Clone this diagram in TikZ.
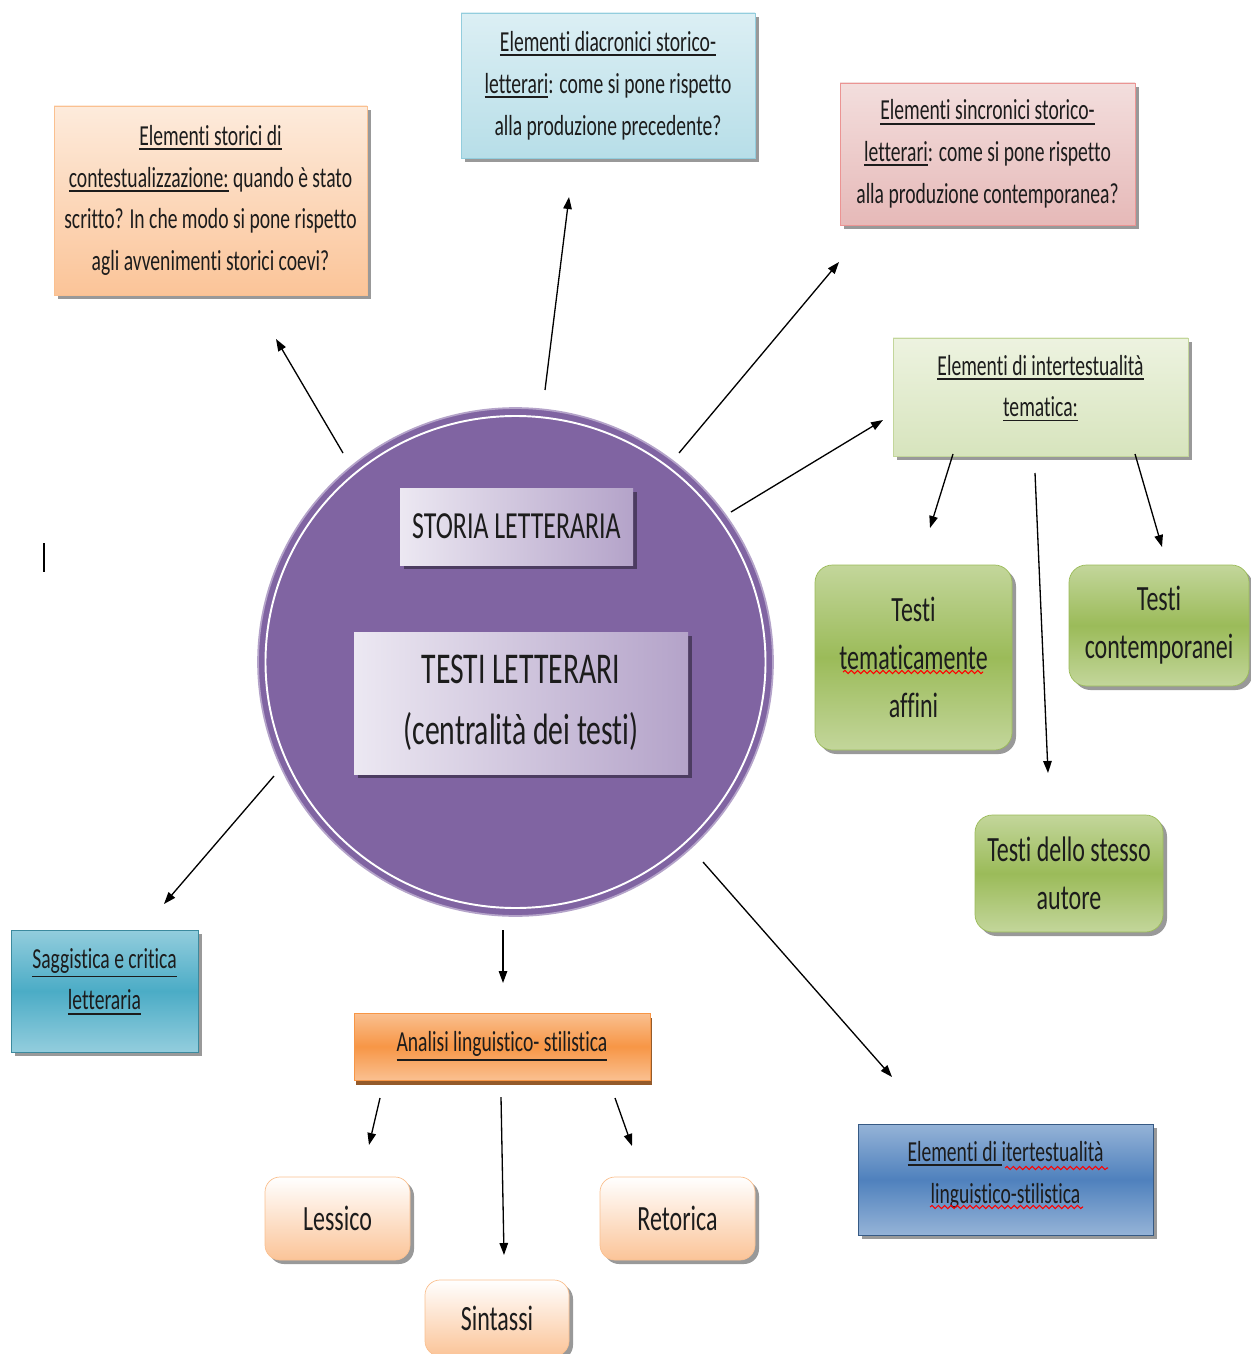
\documentclass[tikz,border=0pt]{standalone}
\usepackage{fontspec}
\setmainfont[FakeStretch=0.676, Ligatures={NoCommon,NoRequired,NoContextual}, Contextuals=NoAlternate]{Carlito}
\usetikzlibrary{arrows.meta,shadows,shapes.geometric,decorations.pathmorphing}

\definecolor{viola}{HTML}{8064A2}
\definecolor{lavchiaro}{HTML}{ECE8F2}
\definecolor{lavscuro}{HTML}{B4A3C9}
\definecolor{pescachiaro}{HTML}{FDEBDC}
\definecolor{pescascuro}{HTML}{FBC498}
\definecolor{celestechiaro}{HTML}{DCEFF4}
\definecolor{celestescuro}{HTML}{B7DEE8}
\definecolor{rosachiaro}{HTML}{F3DEDD}
\definecolor{rosascuro}{HTML}{E6B9B8}
\definecolor{verdechiaro}{HTML}{EDF3E0}
\definecolor{verdetenue}{HTML}{D7E4BD}
\definecolor{verdebordo}{HTML}{C3D69B}
\definecolor{verde}{HTML}{9BBB59}
\definecolor{acqua}{HTML}{4BACC6}
\definecolor{acquachiaro}{HTML}{93CDDD}
\definecolor{arancio}{HTML}{F79646}
\definecolor{aranciochiaro}{HTML}{FAC090}
\definecolor{blu}{HTML}{4F81BD}
\definecolor{bluchiaro}{HTML}{95B3D7}
\definecolor{inchiostro}{HTML}{1C1C1C}

% sottolineatura
\newcommand{\sotto}[1]{\vtop{\hbox{#1}\kern1.4pt\hrule height 1.1pt}}

\tikzset{
  quadro/.style 2 args={minimum width=#1*0.02cm, minimum height=#2*0.02cm, inner sep=0pt, align=center, text=inchiostro},
  ombra/.style={drop shadow={shadow xshift=0.08cm, shadow yshift=-0.08cm, fill=black, opacity=0.4}},
  testo/.style={font=\fontsize{16.5}{23.8}\selectfont, text=inchiostro},
  freccia/.style={-{Triangle[length=0.24cm, width=0.17cm]}, line width=0.75pt, black},
  onda/.style={red, line width=0.6pt, decorate, decoration={snake, amplitude=0.9pt, segment length=3.6pt}},
}

\begin{document}
\begin{tikzpicture}[x=0.02cm, y=-0.02cm]
  \useasboundingbox (0,0) rectangle (1250,1354);

  % cerchio centrale
  \node[ellipse, draw=lavscuro, line width=1pt, fill=viola, minimum width=10.3cm, minimum height=10.16cm] (cerchio) at (515.5,662) {};
  \draw[white, line width=1.1pt] (515.5,662) ellipse [x radius=250, y radius=-246];

  \node[quadro={233}{77}, ombra, left color=lavchiaro, right color=lavscuro, font=\fontsize{21.8}{30}\selectfont] (storia) at (516.5,526.5) {STORIA LETTERARIA};
  \node[quadro={334}{142}, ombra, left color=lavchiaro, right color=lavscuro, font=\fontsize{25}{35}\selectfont] (testi) at (521,703) {TESTI LETTERARI\\(centralità dei testi)};

  % riquadri superiori
  \node[quadro={313}{189}, ombra, testo, draw=aranciochiaro, top color=pescachiaro, bottom color=pescascuro] (storici) at (210.5,200.5)
    {\sotto{Elementi storici di}\\\sotto{contestualizzazione:} quando è stato\\scritto? In che modo si pone rispetto\\agli avvenimenti storici coevi?};
  \node[quadro={294}{145}, ombra, testo, draw=acquachiaro, top color=celestechiaro, bottom color=celestescuro] (diacronici) at (608,85.5)
    {\sotto{Elementi diacronici storico-}\\\sotto{letterari}: come si pone rispetto\\alla produzione precedente?};
  \node[quadro={295}{142}, ombra, testo, draw=rosascuro!80!red, top color=rosachiaro, bottom color=rosascuro] (sincronici) at (987.5,154)
    {\sotto{Elementi sincronici storico-}\\\sotto{letterari}: come si pone rispetto\\alla produzione contemporanea?};
  \node[quadro={295}{118}, ombra, draw=verdebordo, top color=verdechiaro, bottom color=verdetenue,
    label={[testo, align=center, yshift=5pt]center:{\sotto{Elementi di intertestualità}\\\sotto{tematica:}}}] (tematica) at (1040.5,397) {};

  % testi affini
  \node[quadro={197}{185}, ombra, rounded corners=0.35cm, draw=verde, top color=verdebordo, bottom color=verdebordo, middle color=verde, font=\fontsize{20.2}{27.2}\selectfont] (affini) at (913.5,657.5)
    {Testi\\tematicamente\\affini};
  \node[quadro={180}{121}, ombra, rounded corners=0.35cm, draw=verde, top color=verdebordo, bottom color=verdebordo, middle color=verde, font=\fontsize{20.2}{27.2}\selectfont] (contemporanei) at (1159,625.5)
    {Testi\\contemporanei};
  \node[quadro={188}{117}, ombra, rounded corners=0.35cm, draw=verde, top color=verdebordo, bottom color=verdebordo, middle color=verde, font=\fontsize{20.2}{27.2}\selectfont] (autore) at (1069,873.5)
    {Testi dello stesso\\autore};

  % riquadri inferiori
  \node[quadro={187}{122}, ombra, draw=acqua!80!black, top color=acquachiaro, bottom color=acquachiaro, middle color=acqua,
    label={[testo, align=center, yshift=5.5pt]center:{\sotto{Saggistica e critica}\\\sotto{letteraria}}}] (saggistica) at (104.5,991) {};
  \node[quadro={296}{67}, testo, draw=arancio, top color=aranciochiaro, bottom color=aranciochiaro, middle color=arancio,
    drop shadow={shadow xshift=0.03cm, shadow yshift=-0.09cm, fill=arancio!60!black, opacity=1}] (analisi) at (502,1046.5)
    {\sotto{Analisi linguistico- stilistica}};
  \node[quadro={295}{111}, ombra, draw=blu!70!black, top color=bluchiaro, bottom color=bluchiaro, middle color=blu,
    label={[testo, align=center, yshift=2.5pt]center:{\sotto{Elementi di }itertestualità\\linguistico-stilistica}}] (itertestualita) at (1005.5,1179.5) {};

  \node[quadro={145}{83}, ombra, rounded corners=0.3cm, draw=aranciochiaro, top color=white, bottom color=pescascuro, font=\fontsize{20.2}{27}\selectfont] (lessico) at (337.5,1218.5) {Lessico};
  \node[quadro={144}{76}, ombra, rounded corners=0.3cm, draw=aranciochiaro, top color=white, bottom color=pescascuro, font=\fontsize{20.2}{27}\selectfont] (sintassi) at (497,1318) {Sintassi};
  \node[quadro={155}{83}, ombra, rounded corners=0.3cm, draw=aranciochiaro, top color=white, bottom color=pescascuro, font=\fontsize{20.2}{27}\selectfont] (retorica) at (677.5,1218.5) {Retorica};

  % segni del correttore
  \draw[onda] (843,672) -- (983,672);
  \draw[onda] (1005,1168) -- (1108,1168);
  \draw[onda] (930,1207) -- (1083,1207);

  % frecce
  \coordinate (storici-da) at (343,453);        \coordinate (storici-a) at (276,339);
  \coordinate (diacronici-da) at (545,390);     \coordinate (diacronici-a) at (569,197);
  \coordinate (sincronici-da) at (679,453);     \coordinate (sincronici-a) at (839,262);
  \coordinate (tematica-da) at (731,512);       \coordinate (tematica-a) at (883,420);
  \coordinate (affini-da) at (953,454);         \coordinate (affini-a) at (930,528);
  \coordinate (autore-da) at (1035,473);        \coordinate (autore-a) at (1048,773);
  \coordinate (contemporanei-da) at (1135,454); \coordinate (contemporanei-a) at (1162,547);
  \coordinate (saggistica-da) at (274,776);     \coordinate (saggistica-a) at (164,904);
  \coordinate (analisi-da) at (503,930);        \coordinate (analisi-a) at (503,983);
  \coordinate (itertestualita-da) at (703,862); \coordinate (itertestualita-a) at (892,1077);
  \coordinate (lessico-da) at (380,1098);       \coordinate (lessico-a) at (369,1145);
  \coordinate (sintassi-da) at (501,1097);      \coordinate (sintassi-a) at (504,1255);
  \coordinate (retorica-da) at (615,1098);      \coordinate (retorica-a) at (632,1146);

  \foreach \n in {storici,diacronici,sincronici,tematica,affini,autore,contemporanei,saggistica,analisi,itertestualita,lessico,sintassi,retorica}
    \draw[freccia] (\n-da) -- (\n-a);

  % cursore
  \draw[line width=1.3pt] (44,543) -- (44,572);
\end{tikzpicture}
\end{document}
